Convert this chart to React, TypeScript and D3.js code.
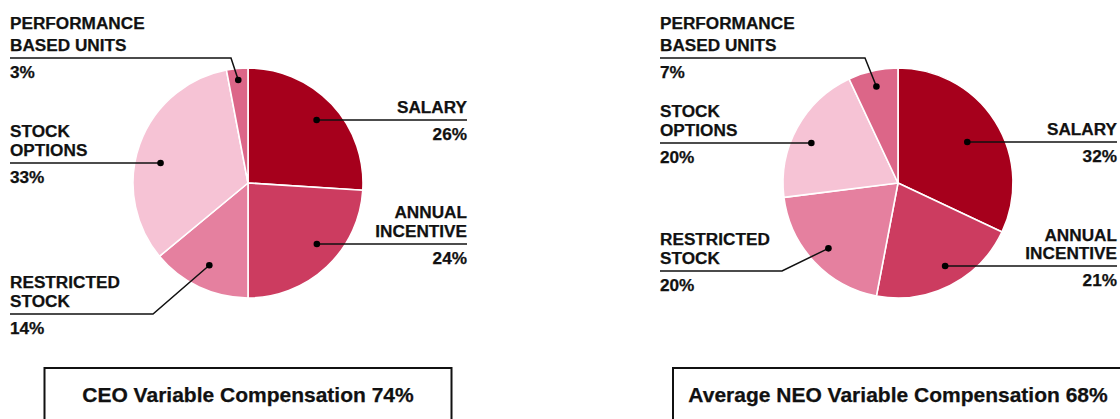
import React from 'react';
import * as d3 from 'd3';

// slice order, clockwise from 12 o'clock
const categories = ['SALARY', 'ANNUAL INCENTIVE', 'RESTRICTED STOCK', 'STOCK OPTIONS', 'PERFORMANCE BASED UNITS'];
const ceoValues = [26, 24, 14, 33, 3];
const neoValues = [32, 21, 20, 20, 7];
const colors = ['#a6001c', '#cc3c60', '#e5809f', '#f6c3d5', '#dc6688'];
const titles = ['CEO Variable Compensation 74%', 'Average NEO Variable Compensation 68%'];

const W = 1120;
const H = 419;
const R = 115;
const FONT = '"Liberation Sans", Arial, Helvetica, sans-serif';

type LabelCfg = {
  lines: string[];
  side: 'left' | 'right';
  lineY: number;
  mode: 'h' | 'diag';
  kneeX?: number;
  dotR: number;
  gap: number;
};

// label placement per chart, same order as categories
const ceoLabels: LabelCfg[] = [
  {lines: ['SALARY'], side: 'right', lineY: 120, mode: 'h', dotR: 0.81, gap: 19},
  {lines: ['ANNUAL', 'INCENTIVE'], side: 'right', lineY: 244, mode: 'h', dotR: 0.8, gap: 19},
  {lines: ['RESTRICTED', 'STOCK'], side: 'left', lineY: 314, mode: 'diag', kneeX: 153, dotR: 0.79, gap: 19},
  {lines: ['STOCK', 'OPTIONS'], side: 'left', lineY: 163, mode: 'h', dotR: 0.78, gap: 19},
  {lines: ['PERFORMANCE', 'BASED UNITS'], side: 'left', lineY: 58, mode: 'diag', kneeX: 231, dotR: 0.9, gap: 22.5},
];
const neoLabels: LabelCfg[] = [
  {lines: ['SALARY'], side: 'right', lineY: 142, mode: 'h', dotR: 0.7, gap: 19},
  {lines: ['ANNUAL', 'INCENTIVE'], side: 'right', lineY: 266, mode: 'h', dotR: 0.83, gap: 18.5},
  {lines: ['RESTRICTED', 'STOCK'], side: 'left', lineY: 271, mode: 'diag', kneeX: 782, dotR: 0.83, gap: 19},
  {lines: ['STOCK', 'OPTIONS'], side: 'left', lineY: 143, mode: 'h', dotR: 0.83, gap: 19.5},
  {lines: ['PERFORMANCE', 'BASED UNITS'], side: 'left', lineY: 58, mode: 'diag', kneeX: 865, dotR: 0.86, gap: 22.5},
];

function Pie({cx, values, labels, title, textLeft, textRight, boxW}: {
  cx: number; values: number[]; labels: LabelCfg[]; title: string;
  textLeft: number; textRight: number; boxW: number;
}) {
  const cy = 183;
  const pie = d3.pie<number>().sort(null).value(d => d);
  const arcs = pie(values);
  const arc = d3.arc<d3.PieArcDatum<number>>().innerRadius(0).outerRadius(R);

  return (
    <g>
      <g transform={`translate(${cx},${cy})`}>
        {arcs.map((a, i) => (
          <path key={i} d={arc(a) || ''} fill={colors[i]} stroke="#fff" strokeWidth={1.6} strokeLinejoin="round" />
        ))}
      </g>
      {arcs.map((a, i) => {
        const cfg = labels[i];
        const mid = (a.startAngle + a.endAngle) / 2;
        const r = R * cfg.dotR;
        let dx: number, dy: number;
        if (cfg.mode === 'h') {
          dy = cfg.lineY - cy;
          const s = Math.sin(mid) >= 0 ? 1 : -1;
          dx = s * Math.sqrt(Math.max(r * r - dy * dy, 0));
        } else {
          dx = r * Math.sin(mid);
          dy = -r * Math.cos(mid);
        }
        const px = cx + dx;
        const py = cy + dy;
        const edge = cfg.side === 'left' ? textLeft : textRight;
        const pts: [number, number][] = cfg.mode === 'h'
          ? [[edge, cfg.lineY], [px, py]]
          : [[edge, cfg.lineY], [cfg.kneeX as number, cfg.lineY], [px, py]];
        const anchor = cfg.side === 'left' ? 'start' : 'end';
        const n = cfg.lines.length;
        return (
          <g key={'l' + i}>
            <path d={d3.line()(pts) || ''} fill="none" stroke="#111" strokeWidth={1.5} />
            <circle cx={px} cy={py} r={3.3} fill="#000" />
            <text fontFamily={FONT} fontWeight="bold" fontSize={17.2} fill="#111" textAnchor={anchor}
              stroke="#111" strokeWidth={0.25}>
              {cfg.lines.map((t, j) => (
                <tspan key={j} x={edge} y={cfg.lineY - 7 - cfg.gap * (n - 1 - j)}>{t}</tspan>
              ))}
              <tspan x={edge} y={cfg.lineY + 19.5}>{`${values[i]}%`}</tspan>
            </text>
          </g>
        );
      })}
      <rect x={cx - boxW / 2} y={368} width={boxW} height={80} fill="none" stroke="#111" strokeWidth={2} />
      <text x={cx} y={402} textAnchor="middle" fontFamily={FONT} fontWeight="bold" fontSize={21} fill="#111"
        stroke="#111" strokeWidth={0.25}>
        {title}
      </text>
    </g>
  );
}

export default function App() {
  return (
    <svg width={W} height={H} style={{position: 'absolute', left: 0, top: 0, background: '#fff'}}>
      <rect width={W} height={H} fill="#fff" />
      <Pie cx={248} values={ceoValues} labels={ceoLabels} title={titles[0]} textLeft={10} textRight={467} boxW={407} />
      <Pie cx={898} values={neoValues} labels={neoLabels} title={titles[1]} textLeft={660} textRight={1117} boxW={450} />
    </svg>
  );
}
